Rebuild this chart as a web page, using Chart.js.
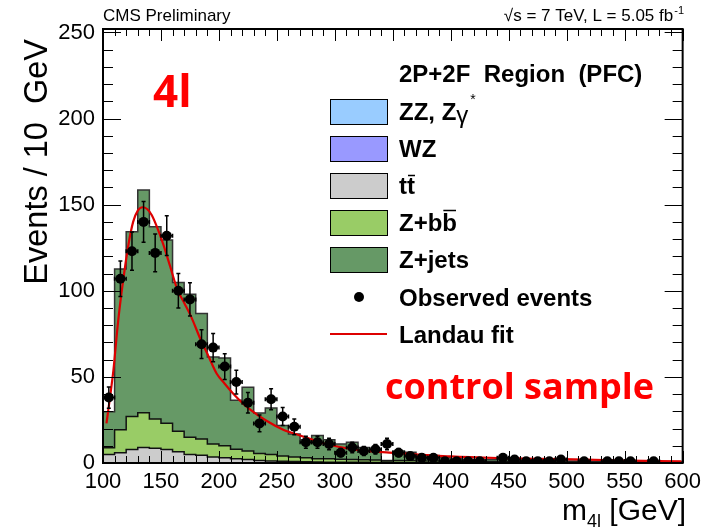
<!DOCTYPE html>
<html>
<head>
<meta charset="utf-8">
<script src="https://cdn.jsdelivr.net/npm/chart.js@4.4.1/dist/chart.umd.min.js"></script>
<style>
  html, body { margin: 0; padding: 0; background: #fff; }
  #wrap { width: 707px; height: 529px; }
</style>
</head>
<body>
<div id="wrap"><canvas id="m4lChart" width="707" height="529"></canvas></div>
<script>
// bins: lower edge of each 10 GeV bin
const binLow = [100, 110, 120, 130, 140, 150, 160, 170, 180, 190,
                200, 210, 220, 230, 240, 250, 260, 270, 280, 290,
                300, 310, 320, 330, 340, 350, 360, 370, 380, 390,
                400, 410, 420, 430, 440, 450, 460, 470, 480, 490,
                500, 510, 520, 530, 540, 550, 560, 570, 580, 590];
const binCenter = [105, 115, 125, 135, 145, 155, 165, 175, 185, 195,
                   205, 215, 225, 235, 245, 255, 265, 275, 285, 295,
                   305, 315, 325, 335, 345, 355, 365, 375, 385, 395,
                   405, 415, 425, 435, 445, 455, 465, 475, 485, 495,
                   505, 515, 525, 535, 545, 555, 565, 575, 585, 595];

// stacked backgrounds (per component, events / 10 GeV)
const zzEvents = [0, 0, 0, 0, 0, 0, 0, 0, 0, 0, 0, 0, 0, 0, 0, 0, 0, 0, 0, 0, 0, 0, 0, 0, 0,
                  0, 0, 0, 0, 0, 0, 0, 0, 0, 0, 0, 0, 0, 0, 0, 0, 0, 0, 0, 0, 0, 0, 0, 0, 0];
const wzEvents = [0, 0, 0, 0, 0, 0, 0, 0, 0, 0, 0, 0, 0, 0, 0, 0, 0, 0, 0, 0, 0, 0, 0, 0, 0,
                  0, 0, 0, 0, 0, 0, 0, 0, 0, 0, 0, 0, 0, 0, 0, 0, 0, 0, 0, 0, 0, 0, 0, 0, 0];
const ttEvents = [5, 6, 7.8, 9, 8.5, 7.8, 6.6, 5, 4.5, 3.5, 3, 2.5, 2, 1.5, 1.2, 1, 0.8, 0.7, 0.6, 0.5,
                  0.5, 0.4, 0.4, 0.3, 0.3, 0.3, 0.3, 0.2, 0.2, 0.2, 0.2, 0.2, 0.1, 0.1, 0.1, 0.1, 0.1,
                  0.1, 0.1, 0.1, 0.1, 0.1, 0.1, 0.1, 0.1, 0.1, 0.1, 0.1, 0.1, 0.1];
const zbbEvents = [3.8, 13.3, 19.2, 20.2, 17, 15.3, 11.9, 10, 9.5, 7.5, 7, 5.5, 5, 4, 3.8, 3, 2.7, 2.3,
                   1.9, 2, 1.7, 1.6, 1.5, 1.4, 0.9, 1.2, 1.1, 1, 1, 0.9, 0.8, 0.8, 0.8, 0.7, 0.7, 0.6,
                   0.6, 0.6, 0.5, 0.5, 0.5, 0.4, 0.4, 0.4, 0.3, 0.3, 0.3, 0.3, 0.3, 0.2];
const zjetsEvents = [21, 93.3, 107.3, 129.3, 111.7, 106.4, 86.3, 83, 72.8, 50.5, 51, 28.5, 37, 23.5, 27,
                     17.8, 13.4, 10.5, 13.5, 11, 8.8, 10, 7.1, 6.3, 0.3, 5.5, 4.9, 3.6, 3.2, 1.9, 1.5,
                     1.2, 1.1, 1.2, 1.2, 1.1, 0.9, 0.8, 0.8, 0.7, 0.6, 0.6, 0.5, 0.4, 0.5, 0.4, 0.4,
                     0.3, 0.3, 0.3];

// observed events and their error bars (null = empty bin)
const obsEvents = [38, 107, 123, 140, 122, 132, 100, 95, 69, 67, 56, 47, 35, 23, 37, 27, 21, 12, 12, 11,
                   6, 9, 7, 8, 11, 6, 4, 3, 3, 1, 1, 1, 1, null, 3, 2, 1, 1, 1, 2,
                   null, 1, null, 1, 1, 1, null, 1, null, null];
const obsErr = [6.2, 10.3, 11.1, 11.8, 11, 11.5, 10, 9.7, 8.3, 8.2, 7.5, 6.9, 5.9, 4.8, 6.1, 5.2, 4.6,
                3.5, 3.5, 3.3, 2.4, 3, 2.6, 2.8, 3.3, 2.4, 2, 1.7, 1.7, 1, 1, 1, 1, null, 1.7, 1.4, 1,
                1, 1, 1.4, null, 1, null, 1, 1, 1, null, 1, null, null];

// Landau fit
const fitMass = [103, 106, 109, 113, 117, 122, 126, 130, 134, 138, 142, 146, 152, 158, 164, 170, 176,
                 184, 191, 198, 205, 212, 220, 227, 241, 255, 270, 290, 318, 347, 376, 400, 440, 496,
                 540, 599];
const fitValue = [23, 38, 54, 82, 104, 127, 140, 146.5, 148.5, 147.5, 144, 138, 127, 114, 101, 93, 85,
                  72, 62, 52, 46, 40.5, 35, 31, 24.5, 19.5, 16, 11.5, 7.8, 6, 4.8, 3.8, 2.9, 2.2,
                  1.6, 0.9];

const xTicks = [100, 150, 200, 250, 300, 350, 400, 450, 500, 550, 600];
const yTicks = [0, 50, 100, 150, 200, 250];

const colZZ = '#99ccff', colWZ = '#9999ff', colTT = '#cccccc', colZbb = '#99cc66', colZjets = '#669966';
const colFit = '#dd0000';
const FONT = '"Liberation Sans", Arial, sans-serif';

function histPoints(vals) {
  const pts = binLow.map((x, i) => ({ x: x, y: vals[i] }));
  pts.push({ x: binLow[binLow.length - 1] + 10, y: vals[vals.length - 1] });
  return pts;
}

const obsPoints = [];
binCenter.forEach((x, i) => { if (obsEvents[i] !== null) obsPoints.push({ x: x, y: obsEvents[i] }); });

function histSet(label, vals, color, fill, border) {
  return {
    label: label, data: histPoints(vals), stack: 'bkg', order: 10,
    stepped: 'before', fill: fill, backgroundColor: color,
    borderColor: border, borderWidth: border ? 1.5 : 0, pointRadius: 0
  };
}

// === ERROR BARS, TICKS, FRAME ===
const drawExtras = {
  id: 'drawExtras',
  beforeDraw(chart) {
    const ctx = chart.ctx;
    ctx.save();
    ctx.fillStyle = '#fff';
    ctx.fillRect(0, 0, chart.width, chart.height);
    ctx.restore();
  },
  afterDatasetsDraw(chart) {
    const { ctx, chartArea: a, scales: { x, y } } = chart;
    ctx.save();
    ctx.beginPath();
    ctx.rect(a.left, a.top, a.width, a.height);
    ctx.clip();
    ctx.strokeStyle = '#000';
    ctx.lineWidth = 1.5;
    binCenter.forEach((m, i) => {
      if (obsEvents[i] === null) return;
      const px = x.getPixelForValue(m);
      const yl = y.getPixelForValue(obsEvents[i] - obsErr[i]);
      const yh = y.getPixelForValue(obsEvents[i] + obsErr[i]);
      const py = y.getPixelForValue(obsEvents[i]);
      const xl = x.getPixelForValue(m - 5), xh = x.getPixelForValue(m + 5);
      ctx.beginPath();
      ctx.moveTo(px, yl); ctx.lineTo(px, yh);
      ctx.moveTo(px - 2, yl); ctx.lineTo(px + 2, yl);
      ctx.moveTo(px - 2, yh); ctx.lineTo(px + 2, yh);
      ctx.moveTo(xl, py); ctx.lineTo(xh, py);
      ctx.moveTo(xl, py - 2); ctx.lineTo(xl, py + 2);
      ctx.moveTo(xh, py - 2); ctx.lineTo(xh, py + 2);
      ctx.stroke();
    });
    ctx.restore();

    // ticks inside the frame
    ctx.save();
    ctx.strokeStyle = '#000';
    ctx.lineWidth = 1;
    ctx.beginPath();
    for (let v = 100; v <= 600; v += 10) {
      const px = Math.round(x.getPixelForValue(v)) + 0.5;
      const len = v % 50 === 0 ? 12 : 7;
      ctx.moveTo(px, a.bottom); ctx.lineTo(px, a.bottom - len);
      ctx.moveTo(px, a.top); ctx.lineTo(px, a.top + len);
    }
    for (let v = 0; v <= 250; v += 10) {
      const py = Math.round(y.getPixelForValue(v)) + 0.5;
      const len = v % 50 === 0 ? 18 : 10;
      ctx.moveTo(a.left, py); ctx.lineTo(a.left + len, py);
      ctx.moveTo(a.right, py); ctx.lineTo(a.right - len, py);
    }
    ctx.stroke();
    ctx.lineWidth = 2;
    ctx.strokeRect(a.left, a.top, a.width, a.height);
    ctx.restore();
  },
  afterDraw(chart) {
    const ctx = chart.ctx;
    ctx.save();
    ctx.fillStyle = '#000';
    ctx.textBaseline = 'alphabetic';

    // header line above the frame
    ctx.font = '17px ' + FONT;
    ctx.textAlign = 'left';
    ctx.fillText('CMS Preliminary', 103, 21);
    ctx.font = '11px ' + FONT;
    const sup = '-1';
    const supW = ctx.measureText(sup).width;
    ctx.fillText(sup, 684 - supW, 14);
    ctx.font = '17px ' + FONT;
    const lumi = '\u221As = 7 TeV, L = 5.05 fb';
    const lumiW = ctx.measureText(lumi).width;
    ctx.fillText(lumi, 684 - supW - 1 - lumiW, 21);

    // axis titles
    ctx.font = '32.5px ' + FONT;
    ctx.save();
    ctx.translate(47, 39);
    ctx.rotate(-Math.PI / 2);
    ctx.textAlign = 'right';
    ctx.fillText('Events / 10  GeV', 0, 0);
    ctx.restore();

    const tail = ' [GeV]';
    ctx.font = '30px ' + FONT;
    const tailW = ctx.measureText(tail).width;
    const mW = ctx.measureText('m').width;
    ctx.font = '18px ' + FONT;
    const subW = ctx.measureText('4l').width;
    let xr = 686 - tailW;
    ctx.fillText('4l', xr - subW, 527);
    ctx.font = '30px ' + FONT;
    ctx.fillText(tail, xr, 520);
    ctx.fillText('m', xr - subW - mW, 520);

    // legend
    ctx.font = 'bold 24px ' + FONT;
    ctx.fillText('2P+2F  Region  (PFC)', 399, 82);
    const boxes = [
      { c: colZZ, y: 111 }, { c: colWZ, y: 148 }, { c: colTT, y: 185 },
      { c: colZbb, y: 222 }, { c: colZjets, y: 259 }
    ];
    boxes.forEach(b => {
      ctx.fillStyle = b.c;
      ctx.fillRect(330, b.y - 12, 57, 25);
      ctx.strokeStyle = '#000';
      ctx.lineWidth = 1;
      ctx.strokeRect(330.5, b.y - 11.5, 57, 25);
    });
    ctx.fillStyle = '#000';
    ctx.fillText('ZZ, Z', 399, 120);
    let w = ctx.measureText('ZZ, Z').width;
    ctx.font = '24px ' + FONT;
    ctx.fillText('\u03B3', 399 + w, 123);
    const gW = ctx.measureText('\u03B3').width;
    ctx.font = '14px ' + FONT;
    ctx.fillText('*', 399 + w + gW + 2, 104);
    ctx.font = 'bold 24px ' + FONT;
    ctx.fillText('WZ', 399, 157);
    ctx.fillText('tt', 399, 194);
    const tW = ctx.measureText('t').width;
    ctx.fillText('Z+bb', 399, 231);
    const zbW = ctx.measureText('Z+b').width;
    const bW = ctx.measureText('b').width;
    ctx.fillText('Z+jets', 399, 268);
    ctx.fillText('Observed events', 399, 306);
    ctx.fillText('Landau fit', 399, 343);
    ctx.lineWidth = 1.5;
    ctx.beginPath();
    ctx.moveTo(399 + tW + 1, 175.5); ctx.lineTo(399 + 2 * tW, 175.5);
    ctx.moveTo(399 + zbW + 1, 210.5); ctx.lineTo(399 + zbW + bW - 1, 210.5);
    ctx.stroke();
    ctx.beginPath();
    ctx.arc(359, 297, 5, 0, Math.PI * 2);
    ctx.fill();
    ctx.strokeStyle = colFit;
    ctx.lineWidth = 2;
    ctx.beginPath();
    ctx.moveTo(330, 334); ctx.lineTo(387, 334);
    ctx.stroke();

    // red annotations
    ctx.fillStyle = '#ff0000';
    ctx.font = 'bold 44px "Open Sans", sans-serif';
    ctx.fillText('4l', 153, 107);
    ctx.font = 'bold 36px "Open Sans", sans-serif';
    ctx.fillText('control sample', 385, 399);
    ctx.restore();
  }
};

Chart.defaults.font.family = FONT;
Chart.defaults.color = '#000';

new Chart(document.getElementById('m4lChart'), {
  type: 'line',
  data: {
    datasets: [
      histSet('ZZ, Z\u03B3*', zzEvents, colZZ, 'origin', null),
      histSet('WZ', wzEvents, colWZ, '-1', null),
      histSet('tt', ttEvents, colTT, 'origin', '#111'),
      histSet('Z+bb', zbbEvents, colZbb, '-1', '#111'),
      histSet('Z+jets', zjetsEvents, colZjets, '-1', '#333'),
      {
        label: 'Landau fit', data: fitMass.map((m, i) => ({ x: m, y: fitValue[i] })),
        stack: 'fit', order: 1, borderColor: colFit, borderWidth: 2.2, pointRadius: 0,
        fill: false, cubicInterpolationMode: 'monotone'
      },
      {
        label: 'Observed events', data: obsPoints, stack: 'obs', order: 0,
        showLine: false, pointRadius: 5, pointBackgroundColor: '#000', pointBorderWidth: 0
      }
    ]
  },
  options: {
    responsive: false,
    animation: false,
    events: [],
    layout: { padding: { top: 29, right: 23, left: 0, bottom: 0 } },
    plugins: { legend: { display: false }, tooltip: { enabled: false } },
    scales: {
      x: {
        type: 'linear', min: 100, max: 600,
        grid: { display: false, drawTicks: false },
        border: { display: false },
        afterFit: s => { s.height = 66; },
        afterBuildTicks: s => { s.ticks = xTicks.map(v => ({ value: v })); },
        ticks: { font: { size: 22 }, padding: 6, maxRotation: 0, autoSkip: false }
      },
      y: {
        type: 'linear', min: 0, max: 252, stacked: true,
        grid: { display: false, drawTicks: false },
        border: { display: false },
        afterFit: s => { s.width = 103; },
        afterBuildTicks: s => { s.ticks = yTicks.map(v => ({ value: v })); },
        ticks: { font: { size: 22 }, padding: 8 }
      }
    }
  },
  plugins: [drawExtras]
});
</script>
</body>
</html>
